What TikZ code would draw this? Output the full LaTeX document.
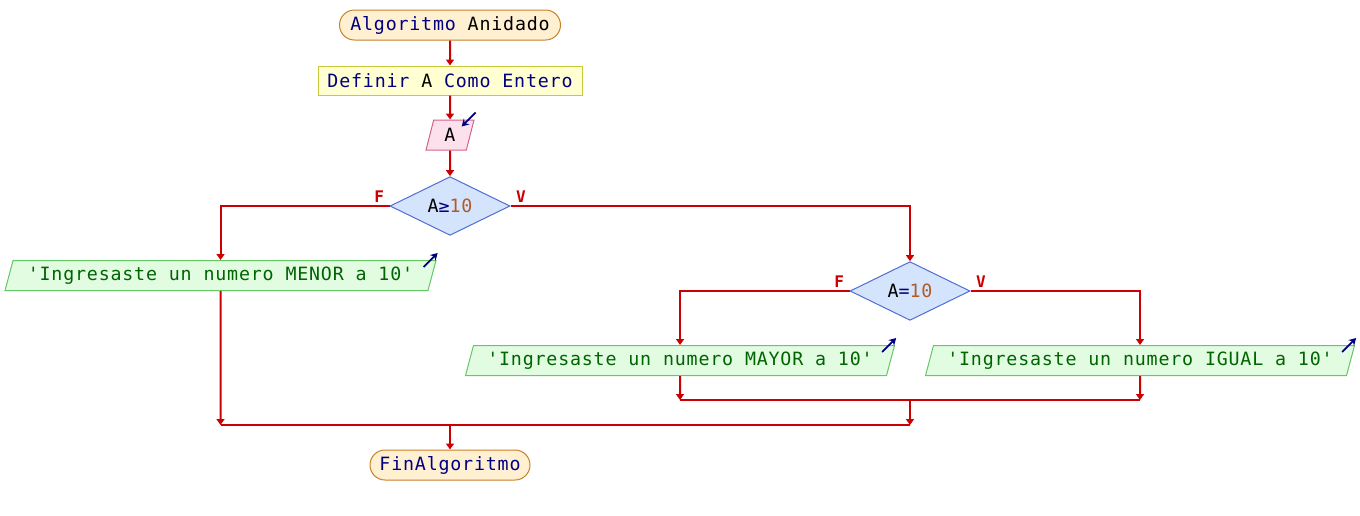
\documentclass[tikz,border=0pt]{standalone}
\usepackage{fontspec}
\setmonofont{DejaVu Sans Mono}[LetterSpace=4.4]
\usepackage{tikz}
\usetikzlibrary{calc}
\usetikzlibrary{arrows.meta,positioning,shapes.geometric,shapes.misc}

\definecolor{flowred}{RGB}{204,0,0}
\definecolor{kwblue}{RGB}{0,0,128}
\definecolor{numbrown}{RGB}{176,90,40}
\definecolor{strgreen}{RGB}{0,100,0}
\definecolor{termfill}{RGB}{255,240,210}
\definecolor{termline}{RGB}{200,130,40}
\definecolor{deffill}{RGB}{255,255,210}
\definecolor{defline}{RGB}{200,200,60}
\definecolor{infill}{RGB}{252,224,236}
\definecolor{inline}{RGB}{210,100,140}
\definecolor{condfill}{RGB}{212,228,252}
\definecolor{condline}{RGB}{80,110,210}
\definecolor{outfill}{RGB}{226,252,226}
\definecolor{outline}{RGB}{100,200,100}

\begin{document}
\begin{tikzpicture}[
    x=1pt, y=-1pt,
    font=\ttfamily\fontsize{18.3}{22}\selectfont,
    term/.style={
      rounded rectangle,
      draw=termline,
      fill=termfill,
      line width=1pt,
      minimum height=30pt,
      inner sep=0pt
    },
    defbox/.style={
      rectangle,
      draw=defline,
      fill=deffill,
      line width=1pt,
      minimum height=29pt,
      inner sep=0pt
    },
    inbox/.style={
      trapezium,
      trapezium left angle=79,
      trapezium right angle=101,
      trapezium stretches=true,
      draw=inline,
      fill=infill,
      line width=1pt,
      minimum height=30pt,
      inner sep=0pt
    },
    outbox/.style={
      trapezium,
      trapezium left angle=67,
      trapezium right angle=113,
      trapezium stretches=true,
      draw=outline,
      fill=outfill,
      line width=1pt,
      minimum height=30pt,
      inner sep=0pt,
      text=strgreen
    },
    cond/.style={
      diamond,
      draw=condline,
      fill=condfill,
      line width=1pt,
      minimum width=120pt,
      minimum height=58pt,
      inner sep=0pt
    },
    branch/.style={
      text=flowred,
      font=\ttfamily\bfseries\fontsize{16}{18}\selectfont
    },
    flow/.style={draw=flowred, line width=2pt, -{Triangle[width=8pt,length=6pt]}},
    joint/.style={draw=flowred, line width=2pt},
    io/.style={draw=kwblue, line width=1.8pt, -{Stealth[width=8pt,length=7pt]}}
]

\useasboundingbox (0,0) rectangle (1360,515);

\node [term, minimum width=221pt] (start) at (450,25) {{\color{kwblue}Algoritmo} Anidado};
\node [defbox, minimum width=264pt] (define) at (450,80.5) {{\color{kwblue}Definir} A {\color{kwblue}Como Entero}};
\node [inbox, minimum width=48pt] (read) at (450,135) {A};
\node [cond] (test1) at (450,206) {A{\color{kwblue}≥}{\color{numbrown}10}};
\node [outbox, minimum width=433pt] (menor) at (220.5,275.5) {'Ingresaste un numero MENOR a 10'};
\node [cond] (test2) at (910,291) {A{\color{kwblue}=}{\color{numbrown}10}};
\node [outbox, minimum width=431pt] (mayor) at (680,360.5) {'Ingresaste un numero MAYOR a 10'};
\node [outbox, minimum width=431pt] (igual) at (1140,360.5) {'Ingresaste un numero IGUAL a 10'};
\node [term, minimum width=160pt] (fin) at (450,465) {\color{kwblue}FinAlgoritmo};

%% Branch labels

\node [branch, above left=0pt and 2pt of test1.west] (f1) {F};
\node [branch, above right=0pt and 2pt of test1.east] (v1) {V};
\node [branch, above left=0pt and 2pt of test2.west] (f2) {F};
\node [branch, above right=0pt and 2pt of test2.east] (v2) {V};

%% Read / write marks

\draw [io] ($(read.top right corner)+(1,-7)$) -- ($(read.top right corner)+(-13,7)$);
\draw [io] ($(menor.top right corner)+(-13,7)$) -- ($(menor.top right corner)+(1,-7)$);
\draw [io] ($(mayor.top right corner)+(-13,7)$) -- ($(mayor.top right corner)+(1,-7)$);
\draw [io] ($(igual.top right corner)+(-13,7)$) -- ($(igual.top right corner)+(1,-7)$);

%% Arrows

\coordinate (join2) at (910,400);
\coordinate (join1) at (450,425);

\draw [flow] (start) -- (define);
\draw [flow] (define) -- (read);
\draw [flow] (read) -- (test1);
\draw [flow] (test1.west) -| (menor.north);
\draw [flow] (test1.east) -| (test2.north);
\draw [flow] (test2.west) -| (mayor.north);
\draw [flow] (test2.east) -| (igual.north);
\draw [flow] (mayor) -- (mayor |- join2);
\draw [flow] (igual) -- (igual |- join2);
\draw [joint] (mayor |- join2) -- (igual |- join2);
\draw [flow] (join2) -- (join2 |- join1);
\draw [flow] (menor) -- (menor |- join1);
\draw [joint] (menor |- join1) -- (join2 |- join1);
\draw [flow] (join1) -- (fin);

\end{tikzpicture}
\end{document}
